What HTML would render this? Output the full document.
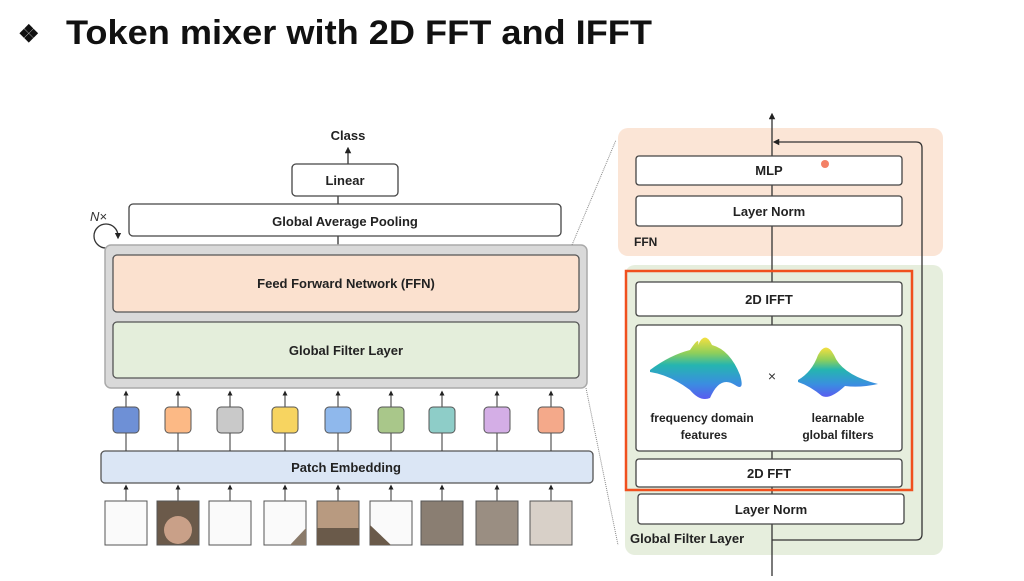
<!DOCTYPE html>
<html><head><meta charset="utf-8"><style>
body{margin:0;width:1024px;height:576px;background:#fff;overflow:hidden;font-family:"Liberation Sans",sans-serif}
</style></head><body>
<svg width="1024" height="576" xmlns="http://www.w3.org/2000/svg" font-family="Liberation Sans, sans-serif">
<defs>
<marker id="a" markerWidth="5" markerHeight="5" refX="2.5" refY="2.5" orient="auto"><path d="M0,0 L5,2.5 L0,5z" fill="#222"/></marker>
<linearGradient id="g" x1="0" y1="0" x2="0" y2="1"><stop offset="0" stop-color="#f5e040"/><stop offset="0.25" stop-color="#8fcf5a"/><stop offset="0.45" stop-color="#25b5b0"/><stop offset="0.75" stop-color="#3a8ee0"/><stop offset="1" stop-color="#5a5cf0"/></linearGradient>
</defs>
<text x="18" y="42" font-size="24" font-weight="bold" fill="#111">❖</text>
<text x="66" y="44" font-size="34" font-weight="bold" fill="#111" textLength="586" lengthAdjust="spacingAndGlyphs">Token mixer with 2D FFT and IFFT</text>

<!-- left -->
<g stroke="#333" stroke-width="1.3" fill="none">
<line x1="348" y1="164" x2="348" y2="150" marker-end="url(#a)"/>
<line x1="338" y1="196" x2="338" y2="204"/>
<line x1="338" y1="236" x2="338" y2="245"/>
</g>
<text x="348" y="140" font-size="13" font-weight="bold" text-anchor="middle" fill="#222">Class</text>
<rect x="292" y="164" width="106" height="32" rx="4" fill="#fff" stroke="#444" stroke-width="1.3"/>
<text x="345" y="185" font-size="13" font-weight="bold" text-anchor="middle" fill="#222">Linear</text>
<rect x="129" y="204" width="432" height="32" rx="4" fill="#fff" stroke="#444" stroke-width="1.3"/>
<text x="345" y="226" font-size="13" font-weight="bold" text-anchor="middle" fill="#222">Global Average Pooling</text>
<text x="90" y="221" font-size="13" font-style="italic" fill="#333">N×</text>
<path d="M106,248 A12,12 0 1,1 118,236" fill="none" stroke="#333" stroke-width="1.3" marker-end="url(#a)"/>
<rect x="105" y="245" width="482" height="143" rx="6" fill="#d9d9d9" stroke="#aaa" stroke-width="1.5"/>
<rect x="113" y="255" width="466" height="57" rx="4" fill="#fbe1cf" stroke="#555" stroke-width="1.3"/>
<text x="346" y="288" font-size="13" font-weight="bold" text-anchor="middle" fill="#222">Feed Forward Network (FFN)</text>
<rect x="113" y="322" width="466" height="56" rx="4" fill="#e4eedb" stroke="#555" stroke-width="1.3"/>
<text x="346" y="355" font-size="13" font-weight="bold" text-anchor="middle" fill="#222">Global Filter Layer</text>
<rect x="101" y="451" width="492" height="32" rx="4" fill="#dbe6f5" stroke="#555" stroke-width="1.3"/>
<text x="346" y="472" font-size="13" font-weight="bold" text-anchor="middle" fill="#222">Patch Embedding</text>
<g id="tok">
<g transform="translate(126,0)"><line x1="0" y1="407" x2="0" y2="393" stroke="#333" marker-end="url(#a)"/><line x1="0" y1="433" x2="0" y2="451" stroke="#333"/><line x1="0" y1="501" x2="0" y2="487" stroke="#333" marker-end="url(#a)"/><rect x="-13" y="407" width="26" height="26" rx="4" fill="#6e90d6" stroke="#555"/><rect x="-21" y="501" width="42" height="44" fill="#fafafa" stroke="#555"/></g>
<g transform="translate(178,0)"><line x1="0" y1="407" x2="0" y2="393" stroke="#333" marker-end="url(#a)"/><line x1="0" y1="433" x2="0" y2="451" stroke="#333"/><line x1="0" y1="501" x2="0" y2="487" stroke="#333" marker-end="url(#a)"/><rect x="-13" y="407" width="26" height="26" rx="4" fill="#fcb985" stroke="#555"/><rect x="-21" y="501" width="42" height="44" fill="#6b5a4a" stroke="#555"/><ellipse cx="0" cy="530" rx="14" ry="14" fill="#c9a088"/></g>
<g transform="translate(230,0)"><line x1="0" y1="407" x2="0" y2="393" stroke="#333" marker-end="url(#a)"/><line x1="0" y1="433" x2="0" y2="451" stroke="#333"/><line x1="0" y1="501" x2="0" y2="487" stroke="#333" marker-end="url(#a)"/><rect x="-13" y="407" width="26" height="26" rx="4" fill="#c9c9c9" stroke="#555"/><rect x="-21" y="501" width="42" height="44" fill="#fafafa" stroke="#555"/></g>
<g transform="translate(285,0)"><line x1="0" y1="407" x2="0" y2="393" stroke="#333" marker-end="url(#a)"/><line x1="0" y1="433" x2="0" y2="451" stroke="#333"/><line x1="0" y1="501" x2="0" y2="487" stroke="#333" marker-end="url(#a)"/><rect x="-13" y="407" width="26" height="26" rx="4" fill="#f7d460" stroke="#555"/><rect x="-21" y="501" width="42" height="44" fill="#fafafa" stroke="#555"/><path d="M5,545 L21,528 L21,545z" fill="#8a7a6a"/></g>
<g transform="translate(338,0)"><line x1="0" y1="407" x2="0" y2="393" stroke="#333" marker-end="url(#a)"/><line x1="0" y1="433" x2="0" y2="451" stroke="#333"/><line x1="0" y1="501" x2="0" y2="487" stroke="#333" marker-end="url(#a)"/><rect x="-13" y="407" width="26" height="26" rx="4" fill="#8fb8ec" stroke="#555"/><rect x="-21" y="501" width="42" height="44" fill="#b89a80" stroke="#555"/><rect x="-21" y="528" width="42" height="17" fill="#6a5a4a"/></g>
<g transform="translate(391,0)"><line x1="0" y1="407" x2="0" y2="393" stroke="#333" marker-end="url(#a)"/><line x1="0" y1="433" x2="0" y2="451" stroke="#333"/><line x1="0" y1="501" x2="0" y2="487" stroke="#333" marker-end="url(#a)"/><rect x="-13" y="407" width="26" height="26" rx="4" fill="#a9c78a" stroke="#555"/><rect x="-21" y="501" width="42" height="44" fill="#fafafa" stroke="#555"/><path d="M-21,525 L0,545 L-21,545z" fill="#6a5a4a"/></g>
<g transform="translate(442,0)"><line x1="0" y1="407" x2="0" y2="393" stroke="#333" marker-end="url(#a)"/><line x1="0" y1="433" x2="0" y2="451" stroke="#333"/><line x1="0" y1="501" x2="0" y2="487" stroke="#333" marker-end="url(#a)"/><rect x="-13" y="407" width="26" height="26" rx="4" fill="#8ecdc8" stroke="#555"/><rect x="-21" y="501" width="42" height="44" fill="#8a7e72" stroke="#555"/></g>
<g transform="translate(497,0)"><line x1="0" y1="407" x2="0" y2="393" stroke="#333" marker-end="url(#a)"/><line x1="0" y1="433" x2="0" y2="451" stroke="#333"/><line x1="0" y1="501" x2="0" y2="487" stroke="#333" marker-end="url(#a)"/><rect x="-13" y="407" width="26" height="26" rx="4" fill="#d4aee6" stroke="#555"/><rect x="-21" y="501" width="42" height="44" fill="#9a8e82" stroke="#555"/></g>
<g transform="translate(551,0)"><line x1="0" y1="407" x2="0" y2="393" stroke="#333" marker-end="url(#a)"/><line x1="0" y1="433" x2="0" y2="451" stroke="#333"/><line x1="0" y1="501" x2="0" y2="487" stroke="#333" marker-end="url(#a)"/><rect x="-13" y="407" width="26" height="26" rx="4" fill="#f4a98a" stroke="#555"/><rect x="-21" y="501" width="42" height="44" fill="#d8d0c8" stroke="#555"/></g>
</g>
<line x1="572" y1="245" x2="616" y2="140" stroke="#888" stroke-dasharray="1,1"/>
<line x1="586" y1="388" x2="618" y2="545" stroke="#888" stroke-dasharray="1,1"/>

<!-- right -->
<rect x="618" y="128" width="325" height="128" rx="10" fill="#fbe5d6"/>
<rect x="625" y="265" width="318" height="290" rx="10" fill="#e6eedd"/>
<text x="634" y="246" font-size="12" font-weight="bold" fill="#222">FFN</text>
<text x="630" y="543" font-size="13" font-weight="bold" fill="#222">Global Filter Layer</text>
<line x1="772" y1="576" x2="772" y2="116" stroke="#333" stroke-width="1.3" marker-end="url(#a)"/>
<path d="M772,540 L916,540 Q922,540 922,534 L922,148 Q922,142 916,142 L776,142" fill="none" stroke="#333" stroke-width="1.3" marker-end="url(#a)"/>
<g fill="#fff" stroke="#444" stroke-width="1.3">
<rect x="636" y="156" width="266" height="29" rx="3"/>
<rect x="636" y="196" width="266" height="30" rx="3"/>
<rect x="636" y="282" width="266" height="34" rx="3"/>
<rect x="636" y="325" width="266" height="126" rx="3"/>
<rect x="636" y="459" width="266" height="28" rx="3"/>
<rect x="638" y="494" width="266" height="30" rx="3"/>
</g>
<rect x="626" y="271" width="286" height="219" fill="none" stroke="#f0501e" stroke-width="2.5"/>
<circle cx="825" cy="164" r="4" fill="#f06040" opacity="0.8"/>
<g font-size="13" font-weight="bold" text-anchor="middle" fill="#222">
<text x="769" y="175">MLP</text>
<text x="769" y="216">Layer Norm</text>
<text x="769" y="304">2D IFFT</text>
<text x="769" y="478">2D FFT</text>
<text x="771" y="514">Layer Norm</text>
</g>
<path d="M650,370 Q670,355 690,350 Q700,335 698,345 Q705,330 712,345 Q730,350 740,375 Q745,392 735,385 Q720,375 710,398 Q700,402 690,390 Q670,375 650,372z" fill="url(#g)"/>
<path d="M798,380 Q812,372 818,355 Q826,340 834,355 Q842,375 878,384 Q860,388 845,386 Q830,400 822,396 Q810,386 798,382z" fill="url(#g)"/>
<text x="772" y="381" font-size="14" text-anchor="middle" fill="#333">×</text>
<g font-size="12" font-weight="bold" text-anchor="middle" fill="#222">
<text x="702" y="422">frequency domain</text>
<text x="704" y="439">features</text>
<text x="838" y="422">learnable</text>
<text x="838" y="439">global filters</text>
</g>
</svg>
</body></html>
